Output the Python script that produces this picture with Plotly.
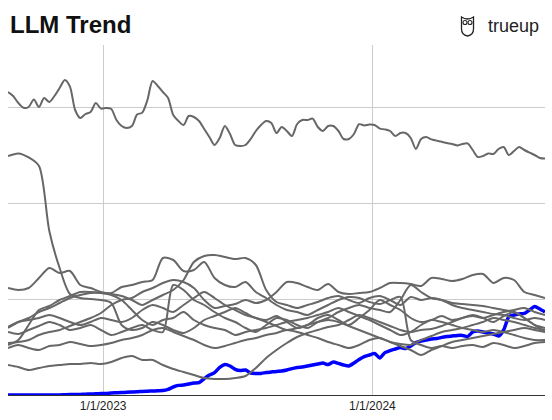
import pandas as pd
import plotly.graph_objects as go

# Weekly interest index, Aug 2022 - Aug 2024
START = "2022-08-25"

llm_weekly = [
    0, 0, 0, 0, 0, 0, 0, 0, 0, 0, 0, 0.05, 0.1, 0.1, 0.15, 0.2, 0.25, 0.3, 0.35, 0.4,
    0.5, 0.55, 0.6, 0.7, 0.75, 0.8, 0.9, 0.95, 1, 1.05, 1.1, 1.4, 2, 2.4, 2.5, 2.75, 3, 3.1, 4.1, 5,
    5.6, 6.9, 7.6, 7.25, 6.4, 6.1, 6.25, 5.5, 5.4, 5.4, 5.6, 5.75, 5.9, 6, 6.25, 6.6, 6.9, 7, 7.25, 7.5,
    7.75, 8, 7.6, 8.25, 7.9, 7.5, 7.25, 8, 8.9, 9.6, 10, 10.4, 9.25, 10.6, 11.1, 11.5, 11.9, 11.6, 12.25, 13.1,
    13.5, 13.75, 14, 14.1, 14.4, 14.6, 14.75, 14.9, 14.9, 14.6, 15.75, 16, 15.75, 15.5, 15.25, 14.75, 16.25, 19.6, 20, 20.25,
    20.4, 21.25, 22.1, 21.5, 20.75,
]

top_weekly = [
    75.75, 74.75, 73, 71.8, 72, 73.9, 72, 74.25, 73.25, 74.75,
    76.75, 78.75, 77.1, 71.25, 69.25, 70.25, 70.75, 73, 71.6, 71.75,
    71.5, 68.75, 67.25, 66.75, 67.25, 70.1, 70.6, 73.75, 78.5, 77.25,
    75.75, 74.25, 70, 68.5, 67.5, 69.75, 69.5, 68.5, 66.5, 64.5,
    62.5, 64.25, 67.25, 65.25, 62.5, 62.25, 62.5, 64, 66, 67.5,
    68.5, 68, 65.5, 67, 66, 64.75, 67.75, 68.75, 68.75, 69.1,
    67, 66, 67.25, 67.25, 66, 64, 64, 65.25, 67.7, 67.4,
    67.6, 67.5, 66.6, 66.4, 66, 64.75, 65.5, 65.5, 64.25, 61.5,
    64, 64.5, 63.9, 63.6, 63.3, 63, 62.75, 62.4, 62.75, 62.9,
    61.25, 59.5, 59.75, 60.4, 60.25, 61.5, 62, 60, 61, 62,
    61.25, 60.6, 60, 59.25, 59.1,
]

# Bi-weekly series for the other terms
series_b = [
    59.75, 60.4, 59.4, 57.25, 41, 31.75, 25.25, 24.25, 24, 23.75,
    23, 17.5, 16.25, 16.75, 18.25, 17.5, 16.25, 15.5, 16.75, 18.75,
    19.75, 20.75, 21.75, 20.5, 19.25, 18.75, 19.75, 18.25, 16.75, 17.5,
    19.25, 20, 18.75, 17.5, 19.25, 21.25, 23.75, 22.5, 21.25, 19.25,
    18.25, 18.75, 19.75, 18.75, 19.25, 20, 19.25, 18.25, 19.75, 20.75,
    19.25, 17.5, 15.75,
]
series_c = [
    26.75, 26.25, 26.75, 29.25, 31.75, 30.5, 31, 27.5, 26.75, 25.75,
    25.5, 27, 27.5, 28.25, 28.75, 34.25, 33.75, 31, 31.25, 33.25,
    29.25, 27.5, 27, 28.25, 25.75, 24.25, 22.5, 21.25, 20.75, 20,
    21.25, 22.5, 23.75, 24.5, 24.25, 23.25, 22.75, 23.75, 24.5, 13.75,
    12.5, 11.75, 12.25, 11.75, 12.25, 12.5, 12, 13, 12.5, 11.75,
    12.25, 13, 13.25,
]
series_d = [
    16.75, 18.25, 19.25, 20.75, 21.75, 23, 24.25, 25, 25.5, 25.5,
    25.25, 24.75, 23.75, 22.5, 23.75, 25, 26.25, 28.75, 33.25, 34.75,
    35, 34.5, 34, 34.25, 32.5, 26.25, 23.25, 22.5, 21.75, 22.5,
    23.25, 24.25, 24.75, 23.75, 23, 24.25, 24.75, 23.75, 22.5, 24.5,
    23.75, 24.25, 23.75, 22.5, 21.75, 21.25, 20.75, 20.25, 20, 19.25,
    18.75, 19.25, 18.75,
]
series_e = [
    15.75, 15.25, 16.25, 17.25, 18.25, 17.5, 16.25, 16.75, 17.5, 16.25,
    15, 15.75, 16.75, 17.5, 16.25, 15.75, 27.5, 26.25, 23.75, 22.5,
    20.75, 19.25, 18.25, 16.75, 15.75, 17.5, 19.25, 18.75, 17.5, 16.75,
    18.25, 19.25, 20.75, 21.75, 22.5, 21.75, 21.25, 20.75, 23.75, 27.5,
    25.75, 24.25, 23.75, 23, 22.75, 22.5, 22.25, 21.75, 21.25, 20.75,
    19.25, 17.5, 16.75,
]
series_f = [
    13, 13.25, 13.75, 15, 15.75, 16.25, 17.25, 18.25, 19.25, 20.5,
    22.5, 23.75, 24.25, 25.75, 26.75, 28, 28.75, 28.25, 26.75, 23.75,
    21.75, 22.25, 22.75, 23.75, 23, 23.75, 25.75, 28.25, 28, 27,
    26.25, 27.75, 25.75, 25.25, 25.5, 25.75, 26.75, 28, 28, 27.75,
    27.25, 29.25, 29, 28.5, 29, 30, 30.25, 28, 29.25, 28.75,
    25.75, 25, 24.25,
]
series_g = [
    12.5, 13.75, 17.5, 21.25, 22.25, 23.75, 24.75, 25.75, 25.75, 25.5,
    25, 23.75, 21.25, 18.75, 17.5, 18.75, 19.25, 20.75, 18.75, 17.5,
    16.75, 16.25, 15, 15.75, 16.25, 16.75, 17.5, 18.25, 18.75, 19.25,
    20, 20.75, 21.75, 20.75, 19.75, 18.75, 17.5, 16.25, 15, 15.75,
    17.5, 18.75, 18.25, 17.5, 16.75, 16.25, 15.75, 16.25, 15.75, 15,
    14.25, 13.75, 13.75,
]
series_h = [
    11.75, 12.5, 11.75, 11.25, 12.25, 12.5, 13.25, 12.75, 12.25, 12.5,
    13, 13.75, 14.25, 15, 16.25, 16.75, 15.75, 14.75, 13.75, 12.5,
    11.75, 12.25, 13, 13.75, 14.25, 15, 15.5, 16.25, 15.75, 15,
    14.25, 13.25, 12.5, 11.75, 12.5, 13.75, 14.25, 13.25, 12.25, 11.25,
    10, 11.25, 12.25, 13.25, 13.75, 14.25, 14.75, 15.25, 15.75, 16.25,
    16.75, 16.25, 15.75,
]
series_i = [
    7.5, 7, 6.25, 6.75, 7.25, 7.5, 7.75, 7.75, 8, 7.75,
    8.25, 9.25, 9.75, 8.75, 8.75, 7.5, 6.5, 5.75, 5, 4.25,
    4, 4, 4.25, 4.75, 6.75, 9.25, 11.25, 13, 14.5, 15.5,
    16.25, 17, 17.5, 18.75, 20, 19.25, 18.25, 17.25, 16.25, 15.75,
    16.25, 16.5, 17.25, 18.25, 19.25, 19.75, 19.25, 20, 20.75, 21.25,
    21.75, 20.75, 20,
]
series_j = [
    17, 18.25, 18.75, 19.25, 20, 19.25, 18.25, 17.5, 18.25, 19.25,
    18.75, 18.25, 19.25, 21.25, 22.5, 21.75, 20.75, 22.5, 24.25, 25.75,
    24.25, 22.5, 21.25, 20, 19.25, 18.25, 17.25, 16.25, 16.75, 17.5,
    18.25, 18.75, 18.25, 17.25, 16.25, 15.25, 14.25, 13.25, 12.75, 12.5,
    13.75, 14.75, 15.75, 16.25, 16.75, 17.5, 18.25, 19.25, 18.75, 18.25,
    17.5, 16.75, 16.25,
]

tick_dates = ["2023-01-01", "2024-01-01"]
tick_labels = ["1/1/2023", "1/1/2024"]

FONT = "Liberation Sans, Arial, sans-serif"
GRAY = "#676767"


def weekly(values):
    return pd.date_range(START, periods=len(values), freq="7D")


def biweekly(values):
    return pd.date_range(START, periods=len(values), freq="14D")


fig = go.Figure()

fig.add_trace(go.Scatter(
    x=weekly(llm_weekly), y=llm_weekly, mode="lines",
    line=dict(color="#0000ff", width=3.5, shape="spline", smoothing=0.6),
))

gray_series = [series_b, series_c, series_d, series_e, series_f,
               series_g, series_h, series_i, series_j]
for values in gray_series:
    fig.add_trace(go.Scatter(
        x=biweekly(values), y=values, mode="lines",
        line=dict(color=GRAY, width=2, shape="spline", smoothing=0.8),
    ))

fig.add_trace(go.Scatter(
    x=weekly(top_weekly), y=top_weekly, mode="lines",
    line=dict(color=GRAY, width=2, shape="spline", smoothing=0.8),
))

fig.update_layout(
    width=552, height=420,
    margin=dict(l=8, r=7, t=45, b=25),
    paper_bgcolor="white", plot_bgcolor="white",
    showlegend=False, hovermode=False,
    font=dict(family=FONT, color="#222"),
    title=dict(
        text="LLM Trend", font=dict(size=24, family=FONT, color="#111", weight="bold"),
        xref="container", yref="container", x=10 / 552, xanchor="left",
        y=1 - 25 / 420, yanchor="middle",
    ),
)

fig.update_xaxes(
    range=["2022-08-25", "2024-08-22"],
    tickvals=tick_dates, ticktext=tick_labels,
    showgrid=True, gridcolor="#cccccc", gridwidth=1,
    showline=True, linecolor="#333333", linewidth=1,
    ticks="", tickfont=dict(size=12, color="#222"),
    zeroline=False,
)
fig.update_yaxes(
    range=[0, 87.5], tickvals=[24, 48, 72], showticklabels=False,
    showgrid=True, gridcolor="#cccccc", gridwidth=1,
    zeroline=False, showline=False, ticks="",
)

# brand mark at top right
fig.add_annotation(
    text="trueup", xref="paper", yref="paper", x=0.993, y=1.055,
    xanchor="right", yanchor="middle", showarrow=False,
    font=dict(size=18, family=FONT, color="#222"),
)
owl_x, owl_y = 0.8557, 1.0543
fig.add_shape(
    type="path", xref="paper", yref="paper", xsizemode="pixel", ysizemode="pixel",
    xanchor=owl_x, yanchor=owl_y,
    path="M -6,9 Q 0,5 6,9 L 6,-3 Q 6,-9 0,-10 Q -6,-9 -6,-3 Z",
    line=dict(color="#222", width=1.3), fillcolor="rgba(0,0,0,0)",
)
for dx in (-2.5, 2.5):
    fig.add_shape(
        type="circle", xref="paper", yref="paper", xsizemode="pixel", ysizemode="pixel",
        xanchor=owl_x, yanchor=owl_y,
        x0=dx - 2, x1=dx + 2, y0=1.5, y1=5.5,
        line=dict(color="#222", width=1.1),
    )

# the page's default body margin would push the figure 8px down and right
fig.write_html(
    "out.html", config=dict(displayModeBar=False),
    post_script="document.body.style.margin = '0';",
)
